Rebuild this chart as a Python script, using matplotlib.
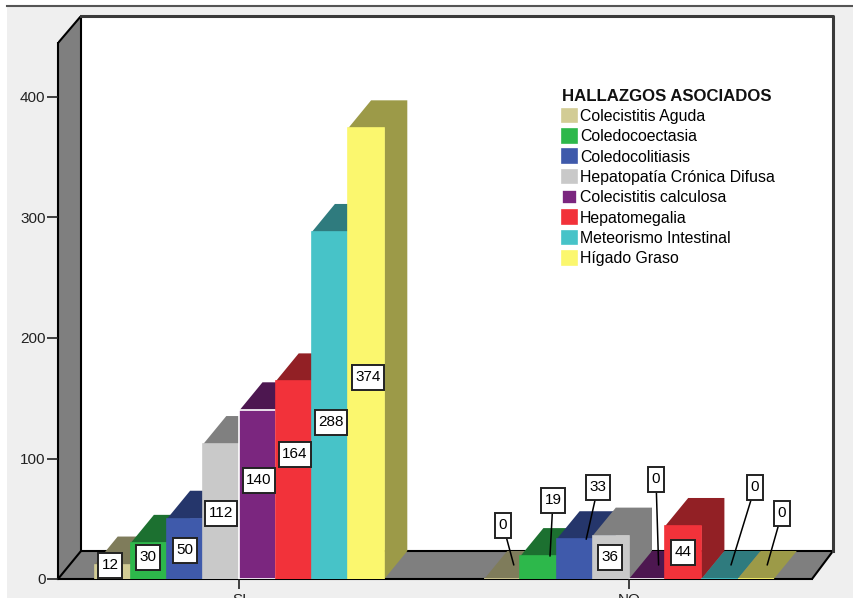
import matplotlib
matplotlib.use('Agg')
import matplotlib.pyplot as plt
from matplotlib.lines import Line2D
from matplotlib.patches import Rectangle
from matplotlib.path import Path

categories = ['SI', 'NO']
series = ['Colecistitis Aguda', 'Coledocoectasia', 'Coledocolitiasis',
          'Hepatopatía Crónica Difusa', 'Colecistitis calculosa',
          'Hepatomegalia', 'Meteorismo Intestinal', 'Hígado Graso']
si_values = [12, 30, 50, 112, 140, 164, 288, 374]
no_values = [0, 19, 33, 36, 0, 44, 0, 0]
y_ticks = [0, 100, 200, 300, 400]

front_colors = ['#D2CC95', '#2DB84B', '#3F5AAB', '#C9C9C9',
                '#7B267F', '#F2323A', '#47C3C8', '#FBF76E']
dark_colors = ['#7F7C5B', '#1C7030', '#25366B', '#808080',
               '#4D1750', '#922025', '#2F7B7E', '#9C9A48']

# label box centres in image pixels, one list per category
si_label_pos = [(110, 565), (148, 557), (185, 550), (221, 513),
                (259, 480), (295, 454), (331, 422), (368, 377)]
no_label_pos = [(503, 525), (553, 500), (598, 487), (610, 557),
                (656, 479), (683, 552), (755, 487), (782, 513)]
no_leaders = [True, True, True, False, True, False, True, True]

W, H = 854, 598
X_PX = 36.2     # pixels per bar
Y_PX = 1.205    # pixels per count
ORIGIN_X, ORIGIN_Y = 239.5, 579
DEPTH_X = 23 / X_PX
DEPTH_Y = 28 / Y_PX
NO_CENTER = (629 - ORIGIN_X) / X_PX

plt.rcParams['font.family'] = ['Liberation Sans', 'DejaVu Sans']


def label_box(x0, y0, width, height, mutation_size):
    # plain rectangle, roomier vertically than horizontally
    px = 0.22 * mutation_size
    py = 0.36 * mutation_size
    return Path([(x0 - px, y0 - py), (x0 + width + px, y0 - py),
                 (x0 + width + px, y0 + height + py), (x0 - px, y0 + height + py),
                 (x0 - px, y0 - py)], closed=True)


fig = plt.figure(figsize=(W / 100, H / 100), dpi=100, facecolor='white')

# grey panel behind the chart with its dark top rule
fig.patches.append(Rectangle((7 / W, 0), 1 - 7 / W, 1 - 6 / H, transform=fig.transFigure,
                             facecolor='#EFEFEF', edgecolor='none', zorder=-5))
fig.add_artist(Line2D([7 / W, 1], [1 - 6 / H, 1 - 6 / H], color='#555555', lw=1.5))

ax = fig.add_axes([58 / W, (H - ORIGIN_Y) / H, (833 - 58) / W, (ORIGIN_Y - 16) / H])
ax.patch.set_visible(False)
x_left = (58 - ORIGIN_X) / X_PX
x_right = (833 - ORIGIN_X) / X_PX
x_front_right = (812 - ORIGIN_X) / X_PX
y_top = (ORIGIN_Y - 16) / Y_PX
y_axis_top = (ORIGIN_Y - 43) / Y_PX
ax.set_xlim(x_left, x_right)
ax.set_ylim(0, y_top)

# back wall, side wall and floor of the box
x_back = x_left + DEPTH_X
ax.fill([x_back, x_right, x_right, x_back], [DEPTH_Y, DEPTH_Y, y_top, y_top],
        color='white', zorder=0.5, lw=0)
ax.fill([x_left, x_back, x_back, x_left], [0, DEPTH_Y, y_top, y_axis_top],
        color='#7F7F7F', zorder=0.6, lw=0)
ax.fill([x_left, x_back, x_right, x_front_right], [0, DEPTH_Y, DEPTH_Y, 0],
        color='#7F7F7F', zorder=0.6, lw=0)
ax.plot([x_left, x_back, x_back], [y_axis_top, y_top, DEPTH_Y], color='black', lw=1.5, zorder=1)
ax.plot([x_left, x_back, x_right, x_front_right], [0, DEPTH_Y, DEPTH_Y, 0], color='black', lw=1.5, zorder=1)
ax.plot([x_back, x_right, x_right], [y_top, y_top, DEPTH_Y], color='#3A3A3A', lw=2.2, zorder=1,
        clip_on=False)

for side in ['top', 'right']:
    ax.spines[side].set_visible(False)
ax.spines['left'].set_bounds(0, y_axis_top)
ax.spines['bottom'].set_bounds(x_left, x_front_right)
for side in ['left', 'bottom']:
    ax.spines[side].set_linewidth(1.5)
    ax.spines[side].set_zorder(1)

ax.set_yticks(y_ticks)
ax.set_xticks([0, NO_CENTER])
ax.set_xticklabels(categories)
ax.tick_params(axis='y', labelsize=11, length=8, width=1.2, pad=1, colors='#222222')
ax.tick_params(axis='x', labelsize=11, length=7, width=1.2, pad=3, colors='#222222')

handles = []
z = 3
for center, values in [(0, si_values), (NO_CENTER, no_values)]:
    for i, v in enumerate(values):
        x0 = center + i - 4
        x1 = x0 + 1
        # top and right faces of the 3D bar, then the front face
        ax.fill([x0, x0 + DEPTH_X, x1 + DEPTH_X, x1 + DEPTH_X, x1, x1],
                [v, v + DEPTH_Y, v + DEPTH_Y, DEPTH_Y, 0, v],
                color=dark_colors[i], zorder=z, lw=0)
        edge = 'white' if series[i] == 'Colecistitis calculosa' else front_colors[i]
        bar = ax.bar(x0, v, width=1, align='edge', color=front_colors[i],
                     edgecolor=edge, linewidth=1.2, zorder=z + 0.5, label=series[i])
        if center == 0:
            handles.append(bar)
        z += 1

# value labels go on top of every bar
box = dict(boxstyle=label_box, facecolor='white', edgecolor='#222222', linewidth=1.4)
for center, values, positions in [(0, si_values, si_label_pos), (NO_CENTER, no_values, no_label_pos)]:
    for i, v in enumerate(values):
        px, py = positions[i]
        x_mid = center + i - 3.5
        if center == 0 or not no_leaders[i]:
            ax.annotate(str(v), xy=(x_mid, v), xytext=(px, H - py), textcoords='figure pixels',
                        ha='center', va='center', fontsize=11, color='black',
                        bbox=box, zorder=100, annotation_clip=False)
        else:
            lift = DEPTH_Y / 2 if v == 0 else 0
            ax.annotate(str(v), xy=(x_mid + DEPTH_X / 2, v + lift), xytext=(px, H - py),
                        textcoords='figure pixels', ha='center', va='center', fontsize=11,
                        color='black', bbox=box, zorder=100, annotation_clip=False,
                        arrowprops=dict(arrowstyle='-', color='black', lw=1.1,
                                        shrinkA=0, shrinkB=0))

leg = ax.legend(handles=handles, title='HALLAZGOS ASOCIADOS', frameon=False, loc='upper left',
                bbox_to_anchor=(549 / W, (H - 76) / H), bbox_transform=fig.transFigure,
                fontsize=11.4, handlelength=0.95, handleheight=0.95, handletextpad=0.2,
                labelspacing=0.32, borderpad=0.3, alignment='left',
                title_fontproperties={'weight': 'bold', 'size': 12.1})
leg.set_zorder(200)
leg.get_title().set_color('#111111')

fig.savefig('out.png', dpi=100)
